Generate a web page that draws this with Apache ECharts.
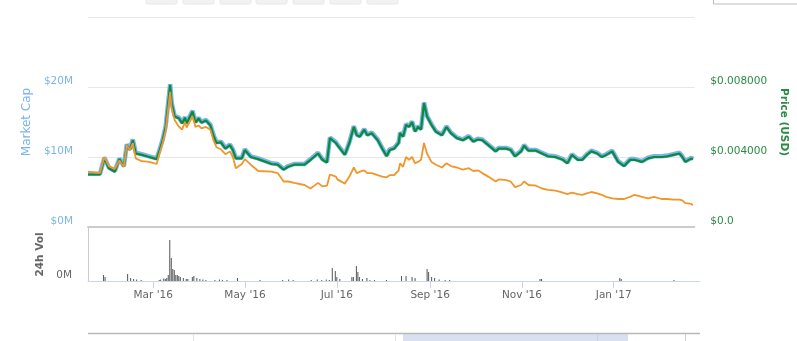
<!DOCTYPE html>
<html>
<head>
<meta charset="utf-8">
<script src="https://cdn.jsdelivr.net/npm/echarts@6/dist/echarts.min.js"></script>
<style>
  html, body { margin: 0; padding: 0; background: #fff; }
  #chart { width: 797px; height: 341px; }
</style>
</head>
<body>
<div id="chart"></div>
<script>
// Daily snapshots: market cap (USD millions), price (USD) and price in satoshi.
const dates = [
  '2016-01-18','2016-01-26','2016-01-29','2016-02-01','2016-02-05','2016-02-08','2016-02-11','2016-02-13',
  '2016-02-15','2016-02-17','2016-02-19','2016-02-23','2016-02-28','2016-03-04','2016-03-06','2016-03-08',
  '2016-03-10','2016-03-13','2016-03-14','2016-03-16','2016-03-19','2016-03-21','2016-03-23','2016-03-24',
  '2016-03-28','2016-03-30','2016-04-01','2016-04-03','2016-04-06','2016-04-09','2016-04-11','2016-04-13',
  '2016-04-16','2016-04-19','2016-04-22','2016-04-24','2016-04-26','2016-04-30','2016-05-02','2016-05-06',
  '2016-05-11','2016-05-20','2016-05-24','2016-05-28','2016-05-31','2016-06-04','2016-06-11','2016-06-15',
  '2016-06-20','2016-06-23','2016-06-26','2016-06-28','2016-07-02','2016-07-03','2016-07-08','2016-07-11',
  '2016-07-14','2016-07-16','2016-07-18','2016-07-21','2016-07-23','2016-07-26','2016-07-30','2016-08-02',
  '2016-08-05','2016-08-07','2016-08-10','2016-08-13','2016-08-14','2016-08-16','2016-08-18','2016-08-20',
  '2016-08-22','2016-08-24','2016-08-26','2016-08-28','2016-08-30','2016-09-01','2016-09-04','2016-09-07',
  '2016-09-11','2016-09-14','2016-09-17','2016-09-21','2016-09-25','2016-09-29','2016-10-02','2016-10-05',
  '2016-10-08','2016-10-12','2016-10-17','2016-10-19','2016-10-24','2016-10-27','2016-10-30','2016-11-03',
  '2016-11-05','2016-11-08','2016-11-13','2016-11-17','2016-11-21','2016-11-26','2016-12-01','2016-12-04',
  '2016-12-07','2016-12-11','2016-12-14','2016-12-17','2016-12-20','2016-12-24','2016-12-27','2016-12-30',
  '2017-01-03','2017-01-07','2017-01-11','2017-01-15','2017-01-18','2017-01-23','2017-01-27','2017-01-31',
  '2017-02-05','2017-02-09','2017-02-13','2017-02-17','2017-02-19','2017-02-21','2017-02-25','2017-02-26'
];

const marketCapM = [
  7.6, 7.6, 9.9, 8.5, 8.0, 9.8, 8.7, 11.8,
  11.1, 12.5, 10.6, 10.4, 10.1, 9.8, 11.1, 12.5,
  14.4, 20.4, 17.8, 15.9, 15.6, 14.9, 15.7, 14.9,
  16.6, 15.0, 15.6, 15.0, 15.3, 14.6, 13.2, 12.1,
  12.2, 11.3, 11.8, 11.1, 9.9, 9.9, 11.1, 10.1,
  9.8, 9.1, 9.0, 8.3, 8.7, 9.0, 9.0, 9.7,
  10.6, 9.7, 9.3, 12.8, 12.1, 11.8, 10.4, 12.1,
  14.4, 13.2, 13.0, 14.0, 13.2, 13.5, 12.5, 11.3,
  10.2, 11.1, 11.3, 12.1, 13.5, 13.0, 14.7, 14.4,
  15.1, 13.7, 14.4, 14.0, 17.8, 15.9, 14.7, 13.7,
  13.2, 14.4, 13.5, 12.8, 12.5, 13.0, 12.3, 12.6,
  12.5, 11.8, 10.9, 11.3, 11.3, 11.1, 10.2, 10.9,
  11.7, 11.0, 11.0, 10.6, 10.2, 10.1, 9.7, 9.2,
  10.4, 9.7, 9.7, 10.4, 10.9, 10.6, 10.1, 10.4,
  10.9, 9.4, 8.8, 9.7, 9.7, 9.4, 9.9, 10.1,
  10.1, 10.2, 10.4, 10.6, 10.1, 9.4, 9.9, 9.7
];

const priceUsd = [
  0.00300, 0.00300, 0.00392, 0.00336, 0.00316, 0.00388, 0.00344, 0.00468,
  0.00440, 0.00496, 0.00420, 0.00412, 0.00400, 0.00388, 0.00440, 0.00496,
  0.00572, 0.00812, 0.00708, 0.00632, 0.00620, 0.00592, 0.00624, 0.00592,
  0.00660, 0.00596, 0.00620, 0.00596, 0.00608, 0.00580, 0.00524, 0.00480,
  0.00484, 0.00448, 0.00468, 0.00440, 0.00392, 0.00392, 0.00440, 0.00400,
  0.00388, 0.00360, 0.00356, 0.00328, 0.00344, 0.00356, 0.00356, 0.00384,
  0.00420, 0.00384, 0.00368, 0.00508, 0.00480, 0.00468, 0.00412, 0.00480,
  0.00572, 0.00524, 0.00516, 0.00556, 0.00524, 0.00536, 0.00496, 0.00448,
  0.00404, 0.00440, 0.00448, 0.00480, 0.00536, 0.00516, 0.00584, 0.00572,
  0.00600, 0.00544, 0.00572, 0.00556, 0.00708, 0.00632, 0.00584, 0.00544,
  0.00524, 0.00572, 0.00536, 0.00508, 0.00496, 0.00516, 0.00488, 0.00500,
  0.00496, 0.00468, 0.00432, 0.00448, 0.00448, 0.00440, 0.00404, 0.00432,
  0.00464, 0.00436, 0.00436, 0.00420, 0.00404, 0.00400, 0.00384, 0.00364,
  0.00412, 0.00384, 0.00384, 0.00412, 0.00432, 0.00420, 0.00400, 0.00412,
  0.00432, 0.00372, 0.00348, 0.00384, 0.00384, 0.00372, 0.00392, 0.00400,
  0.00400, 0.00404, 0.00412, 0.00420, 0.00400, 0.00372, 0.00392, 0.00384
];

const priceSat = [
  790, 770, 1000, 870, 830, 950, 860, 1170,
  1100, 1200, 980, 940, 930, 900, 1060, 1200,
  1380, 1930, 1700, 1530, 1430, 1390, 1500, 1420,
  1580, 1430, 1450, 1410, 1430, 1390, 1240, 1140,
  1110, 1040, 1080, 1000, 840, 900, 970, 890,
  800, 790, 770, 650, 650, 630, 600, 550,
  630, 580, 590, 750, 720, 680, 620, 720,
  850, 770, 790, 810, 770, 770, 740, 720,
  710, 740, 740, 810, 910, 860, 1000, 960,
  1000, 910, 930, 960, 1200, 1050, 930, 890,
  850, 910, 870, 850, 820, 840, 800, 810,
  770, 720, 650, 680, 670, 650, 570, 600,
  650, 600, 590, 550, 530, 520, 490, 470,
  490, 470, 460, 480, 500, 480, 460, 430,
  410, 400, 400, 430, 460, 430, 410, 430,
  400, 400, 390, 390, 380, 340, 330, 310
];

// 24h trading volume (thousands of USD)
const volDates = [
  '2016-01-28','2016-01-29','2016-02-13','2016-02-15','2016-02-17','2016-02-19','2016-02-22','2016-03-05',
  '2016-03-06','2016-03-08','2016-03-09','2016-03-10','2016-03-11','2016-03-12','2016-03-13','2016-03-14',
  '2016-03-15','2016-03-16','2016-03-17','2016-03-18','2016-03-19','2016-03-21','2016-03-23','2016-03-24',
  '2016-03-27','2016-03-28','2016-03-30','2016-04-01','2016-04-03','2016-04-05','2016-04-11','2016-04-14',
  '2016-04-16','2016-04-19','2016-04-26','2016-05-11','2016-05-26','2016-05-30','2016-06-02','2016-06-14',
  '2016-06-18','2016-06-21','2016-06-24','2016-06-26','2016-06-28','2016-06-30','2016-07-01','2016-07-03',
  '2016-07-11','2016-07-12','2016-07-14','2016-07-15','2016-07-16','2016-07-18','2016-07-21','2016-07-23',
  '2016-07-26','2016-08-03','2016-08-13','2016-08-16','2016-08-20','2016-08-22','2016-08-30','2016-08-31',
  '2016-09-02','2016-09-04','2016-09-07','2016-09-11','2016-09-14','2016-11-13','2016-11-14','2017-01-05',
  '2017-01-06','2017-02-10'
];
const volumeK = [
  60, 40, 70, 30, 20, 15, 10, 10,
  15, 25, 20, 30, 60, 410, 230, 120,
  110, 60, 60, 50, 40, 30, 20, 20,
  40, 50, 30, 20, 15, 10, 10, 15,
  10, 10, 30, 10, 10, 15, 10, 10,
  15, 10, 15, 10, 130, 100, 40, 20,
  40, 40, 150, 90, 40, 20, 30, 10,
  10, 10, 50, 50, 40, 30, 120, 90,
  40, 30, 15, 10, 10, 20, 20, 30,
  20, 10
];

const xMin = '2016-01-18';
const xMax = '2017-02-27';
const monthNames = ['Jan','Feb','Mar','Apr','May','Jun','Jul','Aug','Sep','Oct','Nov','Dec'];
const FONT = 'DejaVu Sans';

function monthLabel(v) {
  const d = new Date(v);
  return monthNames[d.getMonth()] + " '" + String(d.getFullYear()).slice(2);
}

const chart = echarts.init(document.getElementById('chart'), null, { renderer: 'canvas' });

// Range buttons peeking in at the top, date input box on the right, navigator strip at the bottom
const buttonX = [146, 183, 220, 256, 293, 330, 367];
const chrome = buttonX.map(x => ({
  type: 'rect', shape: { x: x, y: -20, width: 31, height: 24, r: 2 },
  style: { fill: '#f2f2f2', stroke: '#e8e8e8', lineWidth: 1 }, silent: true
}));
chrome.push(
  { type: 'rect', shape: { x: 713.5, y: -20, width: 100, height: 24 },
    style: { fill: '#fff', stroke: '#bbb', lineWidth: 1 }, silent: true },
  { type: 'rect', shape: { x: 403, y: 333, width: 225, height: 12 },
    style: { fill: 'rgba(102,133,194,0.25)' }, silent: true },
  { type: 'line', shape: { x1: 88, y1: 333.5, x2: 700, y2: 333.5 },
    style: { stroke: '#b8b8b8', lineWidth: 1.5 }, silent: true },
  { type: 'line', shape: { x1: 193.5, y1: 334, x2: 193.5, y2: 341 },
    style: { stroke: '#e2e2e2', lineWidth: 1 }, silent: true },
  { type: 'line', shape: { x1: 395.5, y1: 334, x2: 395.5, y2: 341 },
    style: { stroke: '#e2e2e2', lineWidth: 1 }, silent: true },
  { type: 'line', shape: { x1: 597.5, y1: 334, x2: 597.5, y2: 341 },
    style: { stroke: '#c5d2e8', lineWidth: 1 }, silent: true },
  { type: 'line', shape: { x1: 685.5, y1: 334, x2: 685.5, y2: 341 },
    style: { stroke: '#cfcfcf', lineWidth: 1 }, silent: true }
);

const option = {
  animation: false,
  backgroundColor: '#fff',
  graphic: chrome,
  grid: [
    { left: 88, right: 97, top: 17, height: 210 },
    { left: 88, right: 97, top: 228, height: 53 }
  ],
  xAxis: [
    {
      type: 'time', gridIndex: 0, min: xMin, max: xMax,
      axisLine: { show: true, lineStyle: { color: '#cccccc', width: 2 } },
      axisTick: { show: false }, axisLabel: { show: false }, splitLine: { show: false }
    },
    {
      type: 'time', gridIndex: 1, min: xMin, max: xMax,
      axisLine: { show: true, lineStyle: { color: '#ccd6eb', width: 1 } },
      axisTick: { show: true, length: 7, lineStyle: { color: '#ccd6eb' } },
      axisLabel: {
        formatter: monthLabel, color: '#666', fontSize: 10.5, fontFamily: FONT, margin: 9,
        showMinLabel: false, showMaxLabel: false
      },
      splitLine: { show: false }
    }
  ],
  yAxis: [
    {
      type: 'value', gridIndex: 0, position: 'left', min: 0, max: 30, interval: 10,
      name: 'Market Cap', nameLocation: 'middle', nameGap: 51,
      nameTextStyle: { color: '#7cb5ec', fontSize: 12, fontFamily: FONT },
      axisLabel: {
        formatter: v => (v >= 30 ? '' : '$' + v + 'M'),
        color: '#7cb5ec', fontSize: 10.5, fontFamily: FONT, margin: 15, verticalAlign: 'bottom'
      },
      axisLine: { show: false }, axisTick: { show: false },
      splitLine: { show: true, lineStyle: { color: '#e6e6e6', width: 1 } }
    },
    {
      type: 'value', gridIndex: 0, position: 'right', min: 0, max: 0.012, interval: 0.004,
      name: 'Price (USD)', nameLocation: 'middle', nameGap: 81, nameRotate: -90,
      nameTextStyle: { color: '#2a8a45', fontSize: 10.5, fontWeight: 'bold', fontFamily: FONT },
      axisLabel: {
        formatter: v => (v >= 0.012 ? '' : (v === 0 ? '$0.0' : '$' + v.toFixed(6))),
        color: '#2a8a45', fontSize: 10.5, fontFamily: FONT, margin: 16, verticalAlign: 'bottom'
      },
      axisLine: { show: false }, axisTick: { show: false }, splitLine: { show: false }
    },
    {
      type: 'value', gridIndex: 0, min: 0, max: 3000, show: false
    },
    {
      type: 'value', gridIndex: 1, min: 0, max: 530, interval: 530,
      name: '24h Vol', nameLocation: 'middle', nameGap: 40,
      nameTextStyle: { color: '#666', fontSize: 10.5, fontWeight: 'bold', fontFamily: FONT },
      axisLabel: {
        formatter: v => (v === 0 ? '0M' : ''),
        color: '#666', fontSize: 10.5, fontFamily: FONT, margin: 16, verticalAlign: 'bottom'
      },
      axisLine: { show: true, lineStyle: { color: '#cccccc' } },
      axisTick: { show: false }, splitLine: { show: false }
    }
  ],
  series: [
    {
      name: 'Market Cap', type: 'line', xAxisIndex: 0, yAxisIndex: 0,
      data: dates.map((d, i) => [d, marketCapM[i]]),
      showSymbol: false, symbol: 'none',
      lineStyle: { color: '#7cb5ec', width: 4.5 }, z: 2
    },
    {
      name: 'Price (USD)', type: 'line', xAxisIndex: 0, yAxisIndex: 1,
      data: dates.map((d, i) => [d, priceUsd[i]]),
      showSymbol: false, symbol: 'none',
      lineStyle: { color: '#0b8a3a', width: 2.2 }, z: 3
    },
    {
      name: 'Price (BTC)', type: 'line', xAxisIndex: 0, yAxisIndex: 2,
      data: dates.map((d, i) => [d, priceSat[i]]),
      showSymbol: false, symbol: 'none',
      lineStyle: { color: '#f0962a', width: 1.8 }, z: 4
    },
    {
      name: '24h Vol', type: 'bar', xAxisIndex: 1, yAxisIndex: 3,
      data: volDates.map((d, i) => [d, volumeK[i]]),
      barWidth: 1, itemStyle: { color: '#555' }
    }
  ]
};

chart.setOption(option);
</script>
</body>
</html>
